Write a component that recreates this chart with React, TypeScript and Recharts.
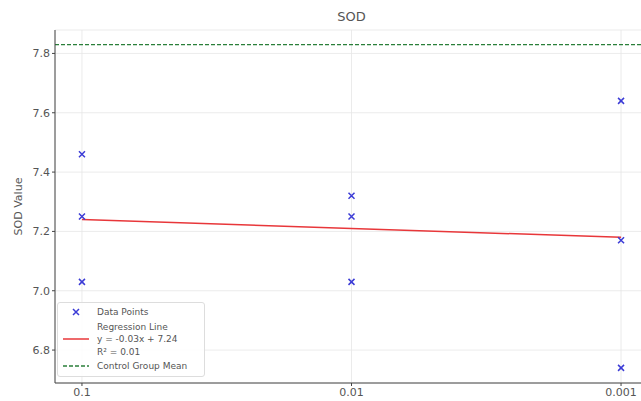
import React from 'react';
import {
  ComposedChart,
  Scatter,
  Line,
  XAxis,
  YAxis,
  CartesianGrid,
  ReferenceLine
} from 'recharts';

// dose groups (categorical, plotted at index 0..2)
const doses = ['0.1', '0.01', '0.001'];
const sodDose1 = [7.46, 7.25, 7.03];
const sodDose2 = [7.32, 7.25, 7.03];
const sodDose3 = [7.64, 7.17, 6.74];
const yTicks = [6.8, 7.0, 7.2, 7.4, 7.6, 7.8];

const slope = -0.03;
const intercept = 7.24;
const rSquared = 0.01;
const controlMean = 7.83;

const groups = [sodDose1, sodDose2, sodDose3];
const points = groups.flatMap((vals, i) => vals.map((v) => ({ x: i, y: v })));
const regression = doses.map((_, i) => ({ x: i, y: intercept + slope * i }));

const font = '"DejaVu Sans", sans-serif';
const textColor = '#555';

function XMarker(props: any) {
  const { cx, cy } = props;
  const s = 3;
  return (
    <path
      d={`M${cx - s},${cy - s}L${cx + s},${cy + s}M${cx - s},${cy + s}L${cx + s},${cy - s}`}
      stroke="#3b3bd6"
      strokeWidth={1.5}
      fill="none"
    />
  );
}

function LegendBox() {
  const row: React.CSSProperties = { display: 'flex', alignItems: 'center' };
  const swatch: React.CSSProperties = { width: 26, marginRight: 8, display: 'flex', justifyContent: 'center' };
  return (
    <div
      style={{
        position: 'absolute',
        left: 57,
        top: 302,
        border: '1px solid #ddd',
        borderRadius: 3,
        background: 'rgba(255,255,255,0.85)',
        padding: '3px 6px 3px 5px',
        fontFamily: font,
        fontSize: 9,
        color: textColor,
        lineHeight: '12.5px',
        width: 135
      }}
    >
      <div style={row}>
        <div style={swatch}>
          <svg width={10} height={10}>
            <XMarker cx={5} cy={5} />
          </svg>
        </div>
        <span>Data Points</span>
      </div>
      <div style={{ ...row, marginTop: 2 }}>
        <div style={swatch}>
          <svg width={26} height={4}>
            <line x1={0} y1={2} x2={26} y2={2} stroke="#e8373a" strokeWidth={1.5} />
          </svg>
        </div>
        <div>
          <div>Regression Line</div>
          <div>y = {slope.toFixed(2)}x + {intercept.toFixed(2)}</div>
          <div>R² = {rSquared.toFixed(2)}</div>
        </div>
      </div>
      <div style={{ ...row, marginTop: 2 }}>
        <div style={swatch}>
          <svg width={26} height={4}>
            <line x1={0} y1={2} x2={26} y2={2} stroke="#2a7f3a" strokeWidth={1.3} strokeDasharray="4 2" />
          </svg>
        </div>
        <span>Control Group Mean</span>
      </div>
    </div>
  );
}

export default function App() {
  return (
    <div style={{ position: 'absolute', left: 0, top: 0, width: 641, height: 401, overflow: 'hidden', background: '#fff' }}>
      <div
        style={{
          position: 'absolute',
          top: 9,
          left: 55,
          width: 593,
          textAlign: 'center',
          fontFamily: font,
          fontSize: 13,
          color: textColor
        }}
      >
        SOD
      </div>
      <ComposedChart
        width={660}
        height={401}
        margin={{ top: 30, right: 12, bottom: 0, left: 0 }}
        style={{ fontFamily: font }}
      >
        <CartesianGrid stroke="#e6e6e6" strokeWidth={0.8} />
        <XAxis
          dataKey="x"
          type="number"
          domain={[-0.1, 2.1]}
          ticks={[0, 1, 2]}
          tickFormatter={(v: number) => doses[v]}
          height={18}
          stroke="#444"
          tickSize={3}
          tick={{ fill: textColor, fontSize: 11 }}
          allowDataOverflow
        />
        <YAxis
          type="number"
          domain={[6.689, 7.879]}
          ticks={yTicks}
          tickFormatter={(v: number) => v.toFixed(1)}
          width={55}
          stroke="#444"
          tickSize={3}
          tick={{ fill: textColor, fontSize: 11 }}
          allowDataOverflow
          label={{
            value: 'SOD Value',
            angle: -90,
            position: 'insideLeft',
            offset: 18,
            style: { fill: textColor, fontSize: 11, textAnchor: 'middle' }
          }}
        />
        <ReferenceLine y={controlMean} stroke="#2a7f3a" strokeWidth={1.3} strokeDasharray="4 2" />
        <Line
          data={regression}
          dataKey="y"
          stroke="#e8373a"
          strokeWidth={1.5}
          dot={false}
          isAnimationActive={false}
        />
        <Scatter data={points} dataKey="y" shape={<XMarker />} isAnimationActive={false} />
      </ComposedChart>
      <LegendBox />
    </div>
  );
}
